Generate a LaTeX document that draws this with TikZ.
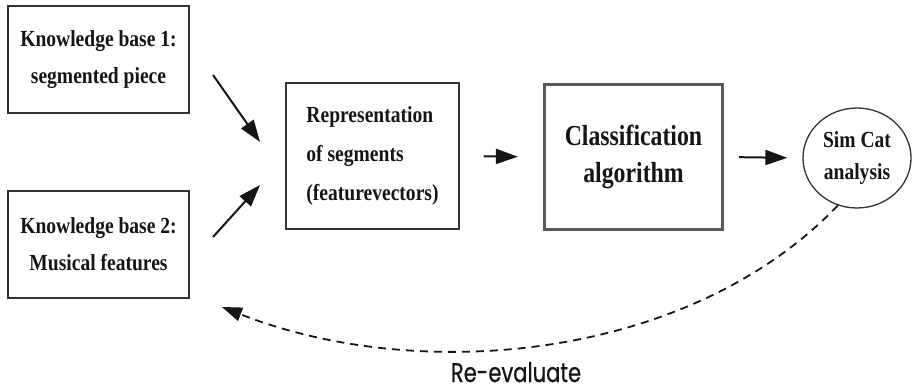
\documentclass[tikz,border=0pt]{standalone}
\usepackage{fontspec}
\usetikzlibrary{arrows.meta,shapes.geometric}
\newfontfamily\tfont[FakeStretch=0.85,BoldFont={Liberation Serif Bold}]{Liberation Serif}
\newfontfamily\cfont[FakeStretch=0.82,BoldFont={Liberation Serif Bold}]{Liberation Serif}
\newfontfamily\rfont[FakeStretch=0.78,FakeBold=0.6]{Poppins}
\definecolor{ink}{HTML}{151515}
\definecolor{edge}{HTML}{333333}
\definecolor{thick}{HTML}{5A5A5A}
\tikzset{
  kbbox/.style={draw=edge, line width=1.3pt, minimum width=181pt, minimum height=107pt,
    inner sep=0pt, align=center, text=ink, font=\tfont\bfseries\fontsize{23}{37}\selectfont},
  repbox/.style={draw=edge, line width=1.3pt, minimum width=173pt, minimum height=146pt,
    inner sep=0pt, align=left, text=ink, font=\tfont\bfseries\fontsize{23}{39}\selectfont},
  clsbox/.style={draw=thick, line width=3.2pt, minimum width=178pt, minimum height=145pt,
    inner sep=0pt, align=center, text=ink, font=\cfont\bfseries\fontsize{29}{37}\selectfont},
  simell/.style={draw=edge, ellipse, line width=1.3pt, minimum width=108pt, minimum height=100pt,
    inner sep=0pt, align=center, text=ink, font=\tfont\bfseries\fontsize{23}{32}\selectfont},
  arr/.style={draw=ink, line width=2pt, -{Triangle[length=22pt,width=15pt]}},
  dasharr/.style={draw=ink, line width=1.8pt, dash pattern=on 8pt off 6pt,
    -{Triangle[length=20pt,width=14pt]}},
  lbl/.style={text=ink, font=\rfont\fontsize{27}{30}\selectfont, inner sep=0pt}
}
\begin{document}
\begin{tikzpicture}[x=1pt,y=-1pt]
\useasboundingbox (0,0) rectangle (912,390);
\node[kbbox] (kb1) at (98.5,59.5) {Knowledge base 1:\\segmented piece};
\node[kbbox] (kb2) at (98.5,244.5) {Knowledge base 2:\\Musical features};
\node[repbox] (rep) at (372.5,156) {Representation\\of segments\\(featurevectors)};
\node[clsbox] (cls) at (633.5,157) {Classification\\algorithm};
\node[simell] (sim) at (857,158) {Sim Cat\\analysis};
\node[lbl, anchor=base] (re) at (516,382) {Re-evaluate};
\coordinate (a1s) at (213,75);
\coordinate (a1e) at (260,142);
\coordinate (a2s) at (213,237);
\coordinate (a2e) at (260,185);
\coordinate (back) at (222,307);
\draw[arr] (a1s) -- (a1e);
\draw[arr] (a2s) -- (a2e);
\draw[arr, shorten <=24pt, shorten >=25pt] (rep.east) -- (cls.west);
\draw[arr, shorten <=15pt, shorten >=15pt] (cls.east) -- (sim.west);
\draw[dasharr] (sim.248) .. controls (690,360) and (420,385) .. (back);
\end{tikzpicture}
\end{document}
